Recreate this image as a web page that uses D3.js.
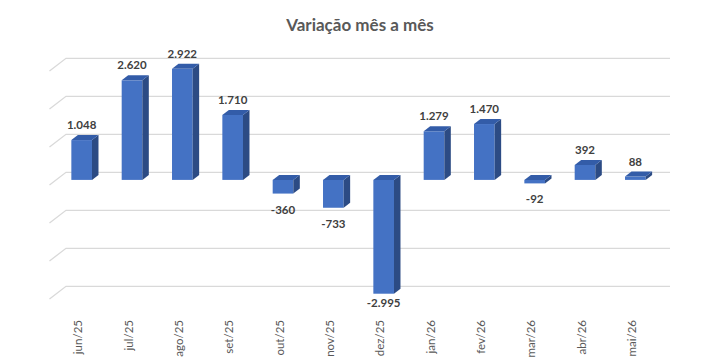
<!DOCTYPE html>
<html>
<head>
<meta charset="utf-8">
<script src="https://cdn.jsdelivr.net/npm/d3@7"></script>
<style>
  body { margin: 0; background: #fff; }
  svg { display: block; font-family: Lato, 'Open Sans', sans-serif; }
</style>
</head>
<body>
<svg width="728" height="364"></svg>
<script>
const categories = ['jun/25', 'jul/25', 'ago/25', 'set/25', 'out/25', 'nov/25', 'dez/25', 'jan/26', 'fev/26', 'mar/26', 'abr/26', 'mai/26']
const values = [1048, 2620, 2922, 1710, -360, -733, -2995, 1279, 1470, -92, 392, 88]
const gridTicks = [-3000, -2000, -1000, 0, 1000, 2000, 3000]

// pt-BR style: dot for thousands, plain hyphen for minus
const fmt = v => d3.format(',')(v).replace(/,/g, '.').replace('\u2212', '-')

const wall = { left: 66, right: 670 }
// depth offsets (pseudo 3D), relative to the back wall
const floorDepth = [-16.5, 12.7]
const barFront = [-9.5, 7.6]
const barBack = [-3, 2.6]

const svg = d3.select('svg')

const x = d3.scaleBand()
  .domain(categories)
  .range([wall.left, wall.right])
  .paddingInner(0.59)
  .paddingOuter(0.295)

const y = d3.scaleLinear()
  .domain([-3000, 3000])
  .range([286.3, 58.3])

svg.append('text')
  .attr('x', 360)
  .attr('y', 31)
  .attr('text-anchor', 'middle')
  .attr('font-size', 17)
  .attr('font-weight', 'bold')
  .attr('fill', '#595959')
  .text('Variação mês a mês')

// gridlines on the back wall, with the slanted floor edge on the left
const grid = svg.append('g').attr('fill', 'none').attr('stroke', '#d9d9d9').attr('stroke-width', 1.3)
grid.selectAll('path')
  .data(gridTicks)
  .join('path')
  .attr('d', d => `M${ wall.left + floorDepth[0] },${ y(d) + floorDepth[1] }L${ wall.left },${ y(d) }L${ wall.right },${ y(d) }`)

const bars = svg.append('g').selectAll('g.bar')
  .data(categories.map((c, i) => ({ cat: c, value: values[i] })))
  .join('g')
  .classed('bar', true)

const geom = d => {
  const x0 = x(d.cat)
  const x1 = x0 + x.bandwidth()
  const yTop = y(Math.max(d.value, 0))
  const yBot = Math.max(y(Math.min(d.value, 0)), yTop + 1)
  return { x0, x1, yTop, yBot }
}

// front face
bars.append('rect')
  .attr('x', d => geom(d).x0 + barFront[0])
  .attr('y', d => geom(d).yTop + barFront[1])
  .attr('width', x.bandwidth())
  .attr('height', d => geom(d).yBot - geom(d).yTop)
  .attr('fill', '#4472c4')

// right side face
bars.append('path')
  .attr('d', d => {
    const g = geom(d)
    return `M${ g.x1 + barFront[0] },${ g.yTop + barFront[1] }L${ g.x1 + barBack[0] },${ g.yTop + barBack[1] }`
      + `L${ g.x1 + barBack[0] },${ g.yBot + barBack[1] }L${ g.x1 + barFront[0] },${ g.yBot + barFront[1] }Z`
  })
  .attr('fill', '#2c4b84')

// top face
bars.append('path')
  .attr('d', d => {
    const g = geom(d)
    return `M${ g.x0 + barFront[0] },${ g.yTop + barFront[1] }L${ g.x0 + barBack[0] },${ g.yTop + barBack[1] }`
      + `L${ g.x1 + barBack[0] },${ g.yTop + barBack[1] }L${ g.x1 + barFront[0] },${ g.yTop + barFront[1] }Z`
  })
  .attr('fill', '#335ca8')

// value labels
bars.append('text')
  .attr('x', d => geom(d).x0 + barFront[0] + x.bandwidth() / 2)
  .attr('y', d => {
    const g = geom(d)
    return d.value >= 0
      ? g.yTop + barFront[1] - 11
      : Math.min(g.yBot + barFront[1] + 20, 306.5)
  })
  .attr('text-anchor', 'middle')
  .attr('font-size', 11.5)
  .attr('font-weight', 'bold')
  .attr('fill', '#404040')
  .text(d => fmt(d.value))

// category labels
svg.append('g').selectAll('text')
  .data(categories)
  .join('text')
  .attr('transform', d => `translate(${ x(d) + barFront[0] + x.bandwidth() / 2 - 3.5 },320) rotate(-90)`)
  .attr('dy', '0.35em')
  .attr('text-anchor', 'end')
  .attr('font-size', 11.5)
  .attr('fill', '#595959')
  .text(d => d)
</script>
</body>
</html>
